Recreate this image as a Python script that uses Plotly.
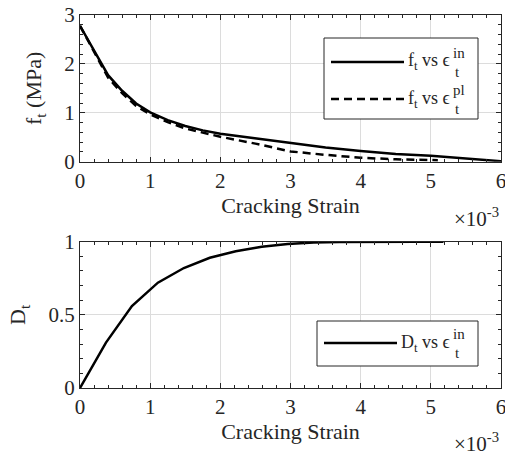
import plotly.graph_objects as go

# Data (strain in units of 1e-3)
strain_in = [0, 0.2, 0.4, 0.6, 0.8, 1.0, 1.25, 1.5, 1.75, 2.0, 2.5, 3.0, 3.5, 4.0, 4.5, 5.0, 5.5, 6.0]
ft_in = [2.78, 2.28, 1.77, 1.45, 1.19, 1.01, 0.85, 0.73, 0.64, 0.57, 0.48, 0.38, 0.29, 0.22, 0.16, 0.12, 0.07, 0.01]

strain_pl = [0, 0.2, 0.4, 0.6, 0.8, 1.0, 1.25, 1.5, 1.75, 2.0, 2.5, 3.0, 3.5, 4.0, 4.5, 5.1]
ft_pl = [2.78, 2.25, 1.72, 1.40, 1.14, 0.97, 0.81, 0.68, 0.59, 0.51, 0.37, 0.21, 0.14, 0.08, 0.05, 0.03]

strain_d = [0, 0.37, 0.74, 1.11, 1.48, 1.85, 2.22, 2.59, 2.96, 3.33, 3.70, 4.07, 4.44, 4.81, 5.18]
Dt = [0, 0.31, 0.56, 0.72, 0.82, 0.89, 0.935, 0.965, 0.985, 0.995, 0.998, 1.0, 1.0, 1.0, 1.0]

FONT = "Liberation Serif"
TXT = "#262626"
W, H = 505, 456
L, R, T, B = 80, 4, 15, 68
PW, PH = W - L - R, H - T - B


def xp(px):
    return (px - L) / PW


def yp(py):
    return (H - B - py) / PH


fig = go.Figure()
fig.add_trace(go.Scatter(x=strain_in, y=ft_in, mode="lines", line=dict(color="black", width=2.5),
                         xaxis="x", yaxis="y", showlegend=False))
fig.add_trace(go.Scatter(x=strain_pl, y=ft_pl, mode="lines", line=dict(color="black", width=2.5, dash="8px,5px"),
                         xaxis="x", yaxis="y", showlegend=False))
fig.add_trace(go.Scatter(x=strain_d, y=Dt, mode="lines", line=dict(color="black", width=2.5),
                         xaxis="x2", yaxis="y2", showlegend=False))

axcommon = dict(showline=True, linecolor="#262626", linewidth=1, mirror="allticks",
                ticks="inside", ticklen=5, tickcolor="#262626",
                showgrid=True, gridcolor="#dcdcdc", gridwidth=1, zeroline=False,
                ticklabeloverflow="allow",
                tickfont=dict(family=FONT, size=21, color=TXT))


def minor(dt):
    return dict(ticks="inside", dtick=dt, ticklen=3, tickcolor="#262626", showgrid=False)


def mirror_ax(rng, dt, mdt, side, overlay, anchor, domain):
    return dict(range=rng, dtick=dt, minor=minor(mdt), ticks="inside", ticklen=5, tickcolor="#262626",
                showticklabels=False, showgrid=False, zeroline=False, showline=False,
                side=side, overlaying=overlay, anchor=anchor, domain=domain)


top_y0 = yp(161.7)
bot_y1 = yp(241.7)
title_font = dict(family=FONT, size=22, color=TXT)

fig.update_layout(
    template="none",
    font=dict(family=FONT, color=TXT),
    width=W, height=H, margin=dict(l=L, r=R, t=T, b=B),
    paper_bgcolor="white", plot_bgcolor="white",
    xaxis=dict(domain=[0, 1], range=[0, 6], dtick=1, anchor="y", minor=minor(0.2),
               title=dict(text="Cracking Strain", font=title_font, standoff=4), **axcommon),
    yaxis=dict(domain=[top_y0, 1], range=[0, 3], dtick=1, anchor="x", minor=minor(0.2),
               title=dict(text="f<sub>t</sub> (MPa)", font=title_font, standoff=16), **axcommon),
    xaxis2=dict(domain=[0, 1], range=[0, 6], dtick=1, anchor="y2", minor=minor(0.2),
                title=dict(text="Cracking Strain", font=title_font, standoff=4), **axcommon),
    yaxis2=dict(domain=[0, bot_y1], range=[0, 1], dtick=0.5, anchor="x2", minor=minor(0.1),
                title=dict(text="D<sub>t</sub>", font=title_font, standoff=16), **axcommon),
    xaxis3=mirror_ax([0, 6], 1, 0.2, "top", "x", "y", [0, 1]),
    yaxis3=mirror_ax([0, 3], 1, 0.2, "right", "y", "x", [top_y0, 1]),
    xaxis4=mirror_ax([0, 6], 1, 0.2, "top", "x2", "y2", [0, 1]),
    yaxis4=mirror_ax([0, 1], 0.5, 0.1, "right", "y2", "x2", [0, bot_y1]),
)

shapes = []
annotations = []

# exponent labels
for ypix in (217, 442):
    annotations.append(dict(xref="paper", yref="paper", x=xp(501), y=yp(ypix), xanchor="right", yanchor="middle",
                            text="×10<sup>-3</sup>", showarrow=False, font=dict(family=FONT, size=21, color=TXT)))

# top legend
shapes.append(dict(type="rect", xref="paper", yref="paper", x0=xp(324), x1=xp(478), y0=yp(119), y1=yp(38),
                   line=dict(color="#262626", width=1), fillcolor="white", layer="above"))
for ypix, dash, sup in ((62, "solid", "in"), (99, "8px,5px", "pl")):
    shapes.append(dict(type="line", xref="paper", yref="paper", x0=xp(331), x1=xp(404), y0=yp(ypix), y1=yp(ypix),
                       line=dict(color="black", width=2.5, dash=dash), layer="above"))
    annotations.append(dict(xref="paper", yref="paper", x=xp(452), y=yp(ypix), xanchor="right", yanchor="middle",
                            text="f<sub>t</sub> vs ϵ", showarrow=False, font=dict(family=FONT, size=18, color=TXT)))
    annotations.append(dict(xref="paper", yref="paper", x=xp(451), y=yp(ypix - 9), xanchor="left", yanchor="middle",
                            text=sup, showarrow=False, font=dict(family=FONT, size=15, color=TXT)))
    annotations.append(dict(xref="paper", yref="paper", x=xp(453), y=yp(ypix + 10), xanchor="left", yanchor="middle",
                            text="t", showarrow=False, font=dict(family=FONT, size=15, color=TXT)))

# bottom legend
shapes.append(dict(type="rect", xref="paper", yref="paper", x0=xp(317), x1=xp(478), y0=yp(366), y1=yp(321),
                   line=dict(color="#262626", width=1), fillcolor="white", layer="above"))
ypix = 343
shapes.append(dict(type="line", xref="paper", yref="paper", x0=xp(324), x1=xp(397), y0=yp(ypix), y1=yp(ypix),
                   line=dict(color="black", width=2.5), layer="above"))
annotations.append(dict(xref="paper", yref="paper", x=xp(452), y=yp(ypix), xanchor="right", yanchor="middle",
                        text="D<sub>t</sub> vs ϵ", showarrow=False, font=dict(family=FONT, size=18, color=TXT)))
annotations.append(dict(xref="paper", yref="paper", x=xp(451), y=yp(ypix - 9), xanchor="left", yanchor="middle",
                        text="in", showarrow=False, font=dict(family=FONT, size=15, color=TXT)))
annotations.append(dict(xref="paper", yref="paper", x=xp(453), y=yp(ypix + 10), xanchor="left", yanchor="middle",
                        text="t", showarrow=False, font=dict(family=FONT, size=15, color=TXT)))

fig.update_layout(shapes=shapes, annotations=annotations)
fig.write_html("out.html")
